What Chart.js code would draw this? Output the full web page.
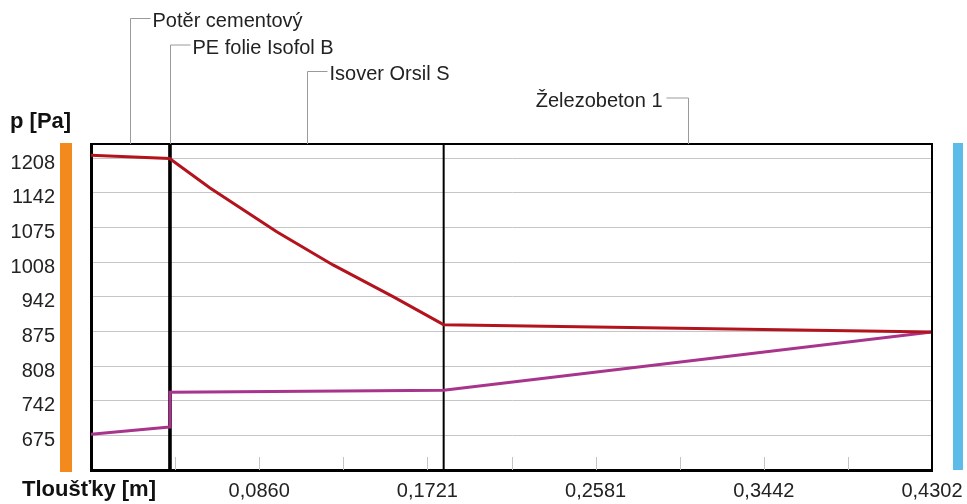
<!DOCTYPE html>
<html>
<head>
<meta charset="utf-8">
<script src="https://cdn.jsdelivr.net/npm/chart.js@4"></script>
<style>
  html, body { margin: 0; padding: 0; background: #ffffff; }
  #wrap { width: 967px; height: 504px; }
</style>
</head>
<body>
<div id="wrap"><canvas id="chart" width="967" height="504"></canvas></div>
<script>
// Layers of the construction (from inside to outside) and their edges [m]
const layerNames = ["Potěr cementový", "PE folie Isofol B", "Isover Orsil S", "Železobeton 1"];
const layerEdges = [0, 0.0402, 0.0404, 0.1804, 0.4302];

// Saturated vapour pressure (red)
const satX = [0, 0.0402, 0.0404, 0.0609, 0.0950, 0.1238, 0.1545, 0.1785, 0.1804, 0.4302];
const satP = [1214, 1208, 1208, 1151, 1067, 1003, 942, 892, 888, 874];

// Partial vapour pressure (purple)
const vapX = [0, 0.0402, 0.0404, 0.1804, 0.4302];
const vapP = [677, 691, 758, 762, 874];

// Axis ticks as printed
const yTickValues = [675, 741.67, 808.33, 875, 941.67, 1008.33, 1075, 1141.67, 1208.33];
const yTickLabels = ["675", "742", "808", "875", "942", "1008", "1075", "1142", "1208"];
const xTickValues = [0, 0.04302, 0.08604, 0.12906, 0.17208, 0.2151, 0.25812, 0.30114, 0.34416, 0.38718, 0.4302];
const xTickLabels = ["", "", "0,0860", "", "0,1721", "", "0,2581", "", "0,3442", "", "0,4302"];

const FONT = "'Liberation Sans', Arial, sans-serif";
const TEXT = "#222222";

function toPoints(xs, ys) {
  return xs.map((x, i) => ({ x: x, y: ys[i] }));
}

// Everything the library has no option for: the layer callouts, the
// layer boundaries, the side bars, the inner tick marks and axis titles.
const decorations = {
  id: "decorations",
  beforeDatasetsDraw(chart) {
    const { ctx, chartArea: a, scales } = chart;
    const xs = scales.x;
    ctx.save();
    // short tick marks standing up from the bottom axis (not on the frame)
    ctx.strokeStyle = "#c4c4c4";
    ctx.lineWidth = 1;
    xTickValues.slice(1, -1).forEach((v) => {
      const px = Math.round(xs.getPixelForValue(v)) + 0.5;
      ctx.beginPath();
      ctx.moveTo(px, a.bottom - 13);
      ctx.lineTo(px, a.bottom);
      ctx.stroke();
    });
    // layer boundaries
    ctx.strokeStyle = "#000000";
    for (let i = 1; i < layerEdges.length - 1; i++) {
      const px = xs.getPixelForValue(layerEdges[i]);
      ctx.lineWidth = 2;
      ctx.beginPath();
      ctx.moveTo(px, a.top);
      ctx.lineTo(px, a.bottom);
      ctx.stroke();
    }
    // a very thin layer (the foil) is shown as one heavy line
    for (let i = 0; i < layerEdges.length - 1; i++) {
      const x0 = xs.getPixelForValue(layerEdges[i]);
      const x1 = xs.getPixelForValue(layerEdges[i + 1]);
      if (x1 - x0 < 2) {
        ctx.fillStyle = "#000000";
        ctx.fillRect((x0 + x1) / 2 - 1.5, a.top, 3.5, a.bottom - a.top);
      }
    }
    ctx.restore();
  },
  afterDraw(chart) {
    const { ctx, chartArea: a, scales } = chart;
    const xs = scales.x;
    ctx.save();

    // top and right frame
    ctx.strokeStyle = "#000000";
    ctx.lineWidth = 2;
    ctx.beginPath();
    ctx.moveTo(a.left, a.top);
    ctx.lineTo(a.right, a.top);
    ctx.lineTo(a.right, a.bottom);
    ctx.stroke();

    // orange (interior) and blue (exterior) side bars
    ctx.fillStyle = "#f28a1e";
    ctx.fillRect(a.left - 31, a.top - 1, 12, a.bottom - a.top + 3);
    ctx.fillStyle = "#5dbbe9";
    ctx.fillRect(a.right + 21, a.top - 1, 10, a.bottom - a.top + 1);

    // layer callouts
    ctx.font = "20px " + FONT;
    ctx.textBaseline = "middle";
    layerNames.forEach((name, i) => {
      const mid = (layerEdges[i] + layerEdges[i + 1]) / 2;
      const px = Math.round(xs.getPixelForValue(mid)) + 0.5;
      const rowY = 18.5 + 26.5 * i;
      const toLeft = i === layerNames.length - 1;
      const hx = toLeft ? px - 22 : px + 20;
      ctx.strokeStyle = "#9a9a9a";
      ctx.lineWidth = 1;
      ctx.beginPath();
      ctx.moveTo(px, a.top);
      ctx.lineTo(px, rowY);
      ctx.lineTo(hx, rowY);
      ctx.stroke();
      ctx.fillStyle = TEXT;
      ctx.textAlign = toLeft ? "right" : "left";
      ctx.fillText(name, toLeft ? hx - 4 : hx + 2, rowY + 3);
    });

    // axis titles
    ctx.font = "bold 22px " + FONT;
    ctx.textAlign = "left";
    ctx.fillStyle = "#111111";
    ctx.fillText("p [Pa]", 10, 122);
    ctx.fillText("Tloušťky [m]", 22, 490);
    ctx.restore();
  },
};

const chart = new Chart(document.getElementById("chart").getContext("2d"), {
  type: "line",
  data: {
    datasets: [
      {
        label: "p sat",
        data: toPoints(satX, satP),
        borderColor: "#b3131d",
        borderWidth: 3,
        pointRadius: 0,
        tension: 0,
      },
      {
        label: "p",
        data: toPoints(vapX, vapP),
        borderColor: "#a8348c",
        borderWidth: 3,
        pointRadius: 0,
        tension: 0,
      },
    ],
  },
  options: {
    responsive: false,
    animation: false,
    layout: { padding: { top: 144, right: 35, left: 0, bottom: 0 } },
    plugins: {
      legend: { display: false },
      tooltip: { enabled: false },
    },
    scales: {
      x: {
        type: "linear",
        min: 0,
        max: 0.4302,
        // fixed axis box; the frame is placed by layout padding alone
        afterFit: (s) => { s.height = 34; s.paddingLeft = 0; s.paddingRight = 0; },
        afterBuildTicks: (s) => { s.ticks = xTickValues.map((v) => ({ value: v })); },
        grid: { display: false },
        border: { display: true, color: "#000000", width: 3 },
        ticks: {
          autoSkip: false,
          maxRotation: 0,
          padding: 1,
          color: TEXT,
          font: { family: FONT, size: 20 },
          callback: (v, i) => xTickLabels[i],
        },
      },
      y: {
        min: 608.33,
        max: 1235.8,
        afterFit: (s) => { s.width = 91; s.paddingTop = 0; s.paddingBottom = 0; },
        afterBuildTicks: (s) => { s.ticks = yTickValues.map((v) => ({ value: v })); },
        grid: { color: "#c6c6c6", lineWidth: 1, drawTicks: false },
        border: { display: true, color: "#000000", width: 3 },
        ticks: {
          padding: 36,
          labelOffset: 5,
          color: TEXT,
          font: { family: FONT, size: 20 },
          callback: (v, i) => yTickLabels[i],
        },
      },
    },
  },
  plugins: [decorations],
});
</script>
</body>
</html>
